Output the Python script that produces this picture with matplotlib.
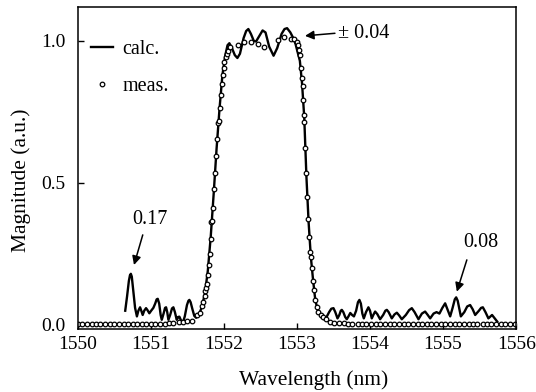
import numpy as np
import matplotlib
matplotlib.use("Agg")
import matplotlib.pyplot as plt

plt.rcParams['font.family'] = ['Liberation Serif', 'DejaVu Serif']
plt.rcParams['font.size'] = 14

# calculated response
calc_wl = [1550.65, 1550.675, 1550.70, 1550.715, 1550.727, 1550.74, 1550.76,
           1550.785, 1550.81, 1550.83, 1550.853, 1550.87, 1550.889, 1550.91,
           1550.935, 1550.955, 1550.98, 1551.005, 1551.035, 1551.06, 1551.08,
           1551.095, 1551.115, 1551.135, 1551.15, 1551.175, 1551.195, 1551.209,
           1551.225, 1551.241, 1551.265, 1551.29, 1551.309, 1551.33, 1551.355,
           1551.375, 1551.391, 1551.41, 1551.437, 1551.465, 1551.495, 1551.515,
           1551.528, 1551.545, 1551.57, 1551.595, 1551.62,
           1551.66, 1551.70, 1551.74, 1551.78, 1551.82, 1551.86, 1551.90,
           1551.94, 1551.98, 1552.02, 1552.05, 1552.075, 1552.11, 1552.15,
           1552.185, 1552.22, 1552.27, 1552.305, 1552.335, 1552.37, 1552.41,
           1552.44, 1552.48, 1552.53, 1552.57, 1552.62, 1552.68, 1552.73,
           1552.79, 1552.83, 1552.865, 1552.91, 1552.95, 1552.98, 1553.01,
           1553.04, 1553.07, 1553.10, 1553.13, 1553.16, 1553.19, 1553.22,
           1553.25, 1553.28, 1553.32, 1553.37,
           1553.40, 1553.44, 1553.47, 1553.50, 1553.525, 1553.555, 1553.58,
           1553.60, 1553.614, 1553.635, 1553.66, 1553.682, 1553.705, 1553.73,
           1553.755, 1553.78, 1553.81, 1553.835, 1553.855, 1553.875, 1553.895,
           1553.915, 1553.945, 1553.978, 1554.00, 1554.024, 1554.045, 1554.07,
           1554.10, 1554.138, 1554.18, 1554.21, 1554.23, 1554.255, 1554.298,
           1554.335, 1554.367, 1554.40, 1554.435, 1554.49, 1554.535, 1554.572,
           1554.61, 1554.663, 1554.71, 1554.754, 1554.79, 1554.823, 1554.87,
           1554.91, 1554.95, 1554.99, 1555.028, 1555.06, 1555.097, 1555.13,
           1555.16, 1555.179, 1555.20, 1555.243, 1555.29, 1555.33, 1555.37,
           1555.405, 1555.439, 1555.49, 1555.52, 1555.544, 1555.58, 1555.62,
           1555.65, 1555.67, 1555.70, 1555.74]
calc_mag = [0.05, 0.10, 0.155, 0.175, 0.18, 0.17, 0.12,
            0.06, 0.03, 0.05, 0.062, 0.05, 0.035, 0.05,
            0.059, 0.052, 0.041, 0.05, 0.06, 0.075, 0.09,
            0.092, 0.075, 0.035, 0.018, 0.04, 0.06, 0.062,
            0.045, 0.018, 0.035, 0.058, 0.062, 0.045, 0.018,
            0.028, 0.029, 0.018, 0.006, 0.03, 0.07, 0.085,
            0.088, 0.08, 0.055, 0.032, 0.025,
            0.035, 0.065, 0.11, 0.19, 0.31, 0.46, 0.62,
            0.76, 0.88, 0.95, 0.985, 0.992, 0.975, 0.95,
            0.94, 0.955, 1.01, 1.035, 1.042, 1.025, 1.0,
            0.998, 1.015, 1.037, 1.03, 0.98, 0.948, 0.975,
            1.025, 1.042, 1.045, 1.03, 1.01, 0.99, 0.96,
            0.93, 0.85, 0.73, 0.52, 0.36, 0.24, 0.16,
            0.09, 0.055, 0.035, 0.02,
            0.025, 0.045, 0.057, 0.059, 0.045, 0.023, 0.035,
            0.05, 0.053, 0.045, 0.028, 0.02, 0.03, 0.042,
            0.035, 0.03, 0.05, 0.08, 0.088, 0.075, 0.04,
            0.023, 0.045, 0.062, 0.05, 0.023, 0.035, 0.047,
            0.038, 0.02, 0.035, 0.05, 0.053, 0.045, 0.023,
            0.037, 0.043, 0.033, 0.02, 0.035, 0.052, 0.059,
            0.045, 0.02, 0.04, 0.047, 0.035, 0.023, 0.04,
            0.045, 0.04, 0.06, 0.076, 0.055, 0.03, 0.06,
            0.09, 0.097, 0.085, 0.03, 0.045, 0.065, 0.07,
            0.055, 0.035, 0.05, 0.06, 0.062, 0.045, 0.023,
            0.03, 0.035, 0.025, 0.012]

# measured points
meas_wl = [1550.00, 1550.06, 1550.13, 1550.19, 1550.25, 1550.31, 1550.38,
           1550.44, 1550.50, 1550.56, 1550.63, 1550.69, 1550.75, 1550.81,
           1550.88, 1550.94, 1551.00, 1551.06, 1551.13, 1551.19, 1551.25,
           1551.31, 1551.38, 1551.44, 1551.50, 1551.561, 1551.637, 1551.674,
           1551.706, 1551.719, 1551.738, 1551.747, 1551.756, 1551.766, 1551.784,
           1551.793, 1551.811, 1551.825, 1551.829, 1551.838, 1551.848, 1551.866,
           1551.884, 1551.893, 1551.911, 1551.925, 1551.930, 1551.948, 1551.962,
           1551.979, 1551.985, 1551.995, 1552.007, 1552.026, 1552.040, 1552.053,
           1552.085, 1552.19, 1552.281, 1552.372, 1552.464, 1552.554, 1552.738,
           1552.828, 1552.916, 1552.961, 1552.998, 1553.016, 1553.034, 1553.045,
           1553.057, 1553.066, 1553.080, 1553.088, 1553.098, 1553.102, 1553.112,
           1553.125, 1553.143, 1553.157, 1553.170, 1553.180, 1553.194, 1553.212,
           1553.225, 1553.235, 1553.248, 1553.272, 1553.294, 1553.326, 1553.362,
           1553.399, 1553.45, 1553.51, 1553.57, 1553.64, 1553.70, 1553.76,
           1553.83, 1553.89, 1553.95, 1554.02, 1554.08, 1554.14, 1554.21,
           1554.27, 1554.33, 1554.40, 1554.46, 1554.52, 1554.59, 1554.65,
           1554.71, 1554.78, 1554.84, 1554.90, 1554.97, 1555.03, 1555.09,
           1555.16, 1555.22, 1555.28, 1555.35, 1555.41, 1555.47, 1555.54,
           1555.60, 1555.66, 1555.73, 1555.79, 1555.85, 1555.92, 1555.98]
meas_mag = [0.003, 0.003, 0.003, 0.003, 0.003, 0.003, 0.003,
            0.003, 0.003, 0.003, 0.003, 0.003, 0.003, 0.003,
            0.003, 0.003, 0.003, 0.003, 0.003, 0.004, 0.005,
            0.007, 0.010, 0.012, 0.014, 0.015, 0.034, 0.041,
            0.065, 0.079, 0.102, 0.121, 0.129, 0.144, 0.176,
            0.211, 0.250, 0.304, 0.364, 0.367, 0.411, 0.478,
            0.534, 0.595, 0.654, 0.710, 0.719, 0.763, 0.808,
            0.849, 0.880, 0.904, 0.925, 0.943, 0.954, 0.966,
            0.980, 0.986, 0.995, 0.995, 0.989, 0.980, 1.004,
            1.013, 1.007, 1.007, 0.998, 0.984, 0.968, 0.950,
            0.904, 0.870, 0.840, 0.792, 0.739, 0.716, 0.622,
            0.536, 0.452, 0.373, 0.311, 0.258, 0.238, 0.200,
            0.153, 0.123, 0.088, 0.062, 0.047, 0.035, 0.027,
            0.021, 0.012, 0.008, 0.006, 0.005, 0.004, 0.004,
            0.004, 0.004, 0.004, 0.004, 0.004, 0.004, 0.004,
            0.004, 0.004, 0.004, 0.004, 0.004, 0.004, 0.004,
            0.004, 0.004, 0.004, 0.004, 0.004, 0.004, 0.004,
            0.004, 0.004, 0.004, 0.004, 0.004, 0.004, 0.004,
            0.004, 0.004, 0.004, 0.004, 0.004, 0.004, 0.004]

x_ticks = [1550, 1551, 1552, 1553, 1554, 1555, 1556]
y_ticks = [0.0, 0.5, 1.0]

fig = plt.figure(figsize=(5.36, 3.92), dpi=100)
ax = fig.add_axes([0.145, 0.161, 0.818, 0.820])

ax.plot(calc_wl, calc_mag, color='black', lw=1.7, solid_joinstyle='round',
        label='calc.')
ax.plot(meas_wl, meas_mag, ls='none', marker='o', ms=3.3, mfc='white',
        mec='black', mew=0.9, label='meas.')

ax.set_xlim(1550, 1556)
ax.set_ylim(-0.014, 1.118)
ax.set_xticks(x_ticks)
ax.set_yticks(y_ticks)
ax.set_yticklabels(['%.1f' % v for v in y_ticks])
ax.tick_params(direction='in', length=4.5, width=1.0, labelsize=14)
ax.tick_params(axis='y', pad=9)
ax.tick_params(axis='x', pad=5)
for s in ax.spines.values():
    s.set_linewidth(1.1)

ax.set_xlabel('Wavelength (nm)', fontsize=15.5)
ax.set_ylabel('Magnitude (a.u.)', fontsize=15.5)
ax.xaxis.set_label_coords(0.537, -0.128)
ax.yaxis.set_label_coords(-0.106, 0.463)

ax.legend(loc='upper left', bbox_to_anchor=(0.03, 0.9), frameon=False,
          borderpad=0, borderaxespad=0, handlelength=1.1, handletextpad=0.45,
          labelspacing=0.92, fontsize=14.5)

arrow = dict(arrowstyle='-|>', color='black', lw=1.1, mutation_scale=13,
             shrinkA=0, shrinkB=0)
ax.annotate('', xy=(1553.11, 1.018), xytext=(1553.52, 1.027), arrowprops=arrow)
ax.text(1553.56, 1.025, '± 0.04', ha='left', va='center', fontsize=14.5)
ax.annotate('', xy=(1550.77, 0.211), xytext=(1550.89, 0.317), arrowprops=arrow)
ax.text(1550.99, 0.37, '0.17', ha='center', va='center', fontsize=14.5)
ax.annotate('', xy=(1555.188, 0.117), xytext=(1555.325, 0.229), arrowprops=arrow)
ax.text(1555.51, 0.289, '0.08', ha='center', va='center', fontsize=14.5)

fig.savefig('out.png', dpi=100)
